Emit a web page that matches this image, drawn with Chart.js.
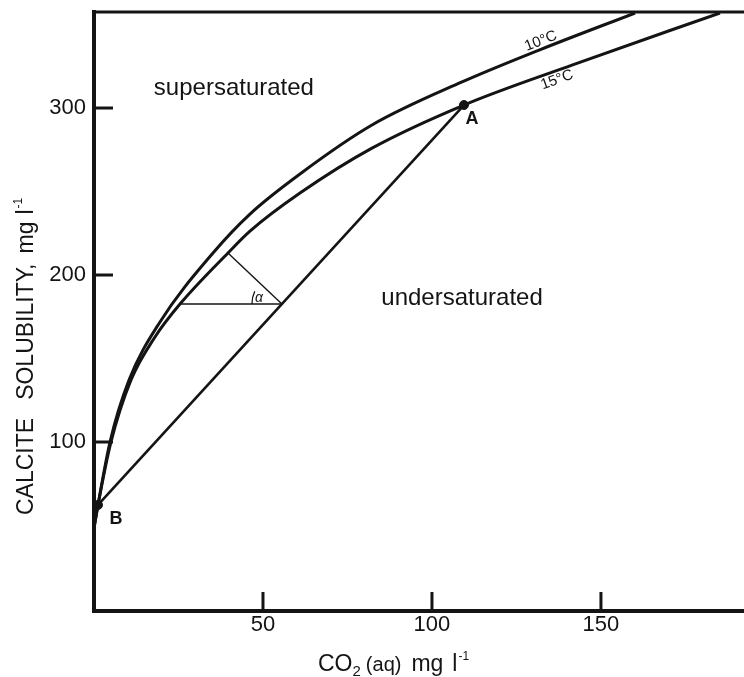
<!DOCTYPE html>
<html>
<head>
<meta charset="utf-8">
<title>Calcite solubility vs CO2</title>
<script src="https://cdn.jsdelivr.net/npm/chart.js@4.4.1/dist/chart.umd.min.js"></script>
<style>
  html, body { margin: 0; padding: 0; background: #fff; }
  canvas { display: block; }
</style>
</head>
<body>
<canvas id="calcite" width="744" height="677"></canvas>
<script>
(function () {
  'use strict';

  // values: CO2(aq) mg/l  ->  calcite solubility mg/l
  var co2_10 = [0, 1.18, 4.73, 10.36, 19.53, 35.21, 46.15, 60.95, 82.25, 108.9, 131.7, 160.1];
  var sol_10 = [48.5, 62.3, 100, 137.1, 171.9, 213.2, 236.5, 260.5, 289.8, 315.6, 334.7, 356.9];

  var co2_15 = [0, 1.18, 5.03, 10.95, 18.05, 25.44, 39.64, 46.15, 60.95, 82.25, 109.47, 141.42, 185.21];
  var sol_15 = [48.5, 62.3, 100, 137.1, 162.9, 182.6, 213.2, 226.3, 249.1, 276.0, 301.8, 325.7, 356.9];

  // points B and A and the line joining them
  var ptNames = ['B', 'A'];
  var ptCo2   = [1.18, 109.47];
  var ptSol   = [62.3, 301.8];

  // construction for the angle alpha
  var triCo2 = [25.44, 55.6, 39.64];
  var triSol = [182.6, 182.6, 213.2];

  var xTicks = [50, 100, 150];
  var yTicks = [100, 200, 300];

  var INK  = '#141414';
  var FONT = '"Liberation Sans", Arial, Helvetica, sans-serif';

  function pairs(xs, ys) {
    return xs.map(function (x, i) { return { x: x, y: ys[i] }; });
  }

  function lineSet(data, width, smooth) {
    return {
      data: data,
      showLine: true,
      borderColor: INK,
      borderWidth: width,
      pointRadius: 0,
      cubicInterpolationMode: smooth ? 'monotone' : 'default',
      tension: 0,
      fill: false
    };
  }

  // draws a run of text pieces (font size, baseline shift) starting at 0,0
  function drawRun(ctx, parts) {
    var x = 0;
    parts.forEach(function (p) {
      ctx.font = (p.style || '') + ' ' + p.size + 'px ' + FONT;
      ctx.fillText(p.t, x, p.dy || 0);
      x += ctx.measureText(p.t).width + (p.gap || 0);
    });
  }

  function noPad(s) {
    s.paddingTop = 0; s.paddingBottom = 0; s.paddingLeft = 0; s.paddingRight = 0;
  }

  var decor = {
    id: 'decor',
    afterDatasetsDraw: function (chart) {
      var ctx = chart.ctx;
      var a = chart.chartArea;
      var xs = chart.scales.x, ys = chart.scales.y;
      ctx.save();
      ctx.strokeStyle = INK;
      ctx.fillStyle = INK;

      // top frame line, and both frame lines run off the right edge
      ctx.lineWidth = 3;
      ctx.beginPath();
      ctx.moveTo(a.left - 2, a.top);
      ctx.lineTo(chart.width, a.top);
      ctx.stroke();
      ctx.lineWidth = 4;
      ctx.beginPath();
      ctx.moveTo(a.right - 1, a.bottom);
      ctx.lineTo(chart.width, a.bottom);
      ctx.stroke();

      // inward tick marks
      ctx.lineWidth = 3;
      xTicks.forEach(function (v) {
        var px = xs.getPixelForValue(v);
        ctx.beginPath();
        ctx.moveTo(px, a.bottom);
        ctx.lineTo(px, a.bottom - 19);
        ctx.stroke();
      });
      yTicks.forEach(function (v) {
        var py = ys.getPixelForValue(v);
        ctx.beginPath();
        ctx.moveTo(a.left, py);
        ctx.lineTo(a.left + 19, py);
        ctx.stroke();
      });

      // angle arc and alpha
      var vx = xs.getPixelForValue(triCo2[1]), vy = ys.getPixelForValue(triSol[1]);
      ctx.lineWidth = 1.3;
      ctx.beginPath();
      ctx.arc(vx, vy, 30, Math.PI, Math.PI + 0.44);
      ctx.stroke();
      ctx.font = 'italic 14px ' + FONT;
      ctx.textAlign = 'center';
      ctx.textBaseline = 'middle';
      ctx.fillText('\u03b1', vx - 23, vy - 6);

      // region labels
      ctx.font = '24px ' + FONT;
      ctx.fillText('supersaturated', xs.getPixelForValue(41.4), ys.getPixelForValue(312));
      ctx.fillText('undersaturated', xs.getPixelForValue(108.9), ys.getPixelForValue(186.2));

      // point labels
      ctx.font = 'bold 18px ' + FONT;
      var bx = xs.getPixelForValue(ptCo2[0]), by = ys.getPixelForValue(ptSol[0]);
      var ax = xs.getPixelForValue(ptCo2[1]), ay = ys.getPixelForValue(ptSol[1]);
      ctx.fillText(ptNames[0], bx + 18, by + 14);
      ctx.fillText(ptNames[1], ax + 8, ay + 14);

      // curve labels
      ctx.font = '15px ' + FONT;
      ctx.save();
      ctx.translate(xs.getPixelForValue(132.2), ys.getPixelForValue(340.1));
      ctx.rotate(-0.37);
      ctx.fillText('10\u00b0C', 0, 0);
      ctx.restore();
      ctx.save();
      ctx.translate(xs.getPixelForValue(137.0), ys.getPixelForValue(316.8));
      ctx.rotate(-0.35);
      ctx.fillText('15\u00b0C', 0, 0);
      ctx.restore();

      // axis titles
      ctx.textAlign = 'left';
      ctx.textBaseline = 'alphabetic';
      ctx.save();
      ctx.translate(318, 671);
      drawRun(ctx, [
        { t: 'CO', size: 23 },
        { t: '2', size: 15, dy: 5, gap: 5 },
        { t: '(aq)', size: 20, gap: 10 },
        { t: 'mg', size: 23, gap: 9 },
        { t: 'l', size: 23, gap: 1 },
        { t: '-1', size: 12, dy: -11 }
      ]);
      ctx.restore();

      ctx.save();
      ctx.translate(33, 515);
      ctx.rotate(-Math.PI / 2);
      drawRun(ctx, [
        { t: 'CALCITE', size: 23, gap: 18 },
        { t: 'SOLUBILITY,', size: 23, gap: 10 },
        { t: 'mg', size: 23, gap: 7 },
        { t: 'l', size: 23, gap: 1 },
        { t: '-1', size: 12, dy: -11 }
      ]);
      ctx.restore();

      ctx.restore();
    }
  };

  var tickFont = { family: FONT, size: 22 };

  new Chart(document.getElementById('calcite'), {
    type: 'scatter',
    data: {
      datasets: [
        lineSet(pairs(co2_10, sol_10), 3, true),
        lineSet(pairs(co2_15, sol_15), 3, true),
        lineSet(pairs(ptCo2, ptSol), 2.6, false),
        lineSet(pairs(triCo2.slice(0, 2), triSol.slice(0, 2)), 1.4, false),
        lineSet(pairs(triCo2.slice(1), triSol.slice(1)), 1.4, false),
        {
          data: pairs(ptCo2, ptSol),
          showLine: false,
          pointRadius: 4.5,
          pointBackgroundColor: INK,
          pointBorderColor: INK
        }
      ]
    },
    options: {
      responsive: false,
      animation: false,
      events: [],
      layout: { padding: { top: 12, right: 0, left: 0, bottom: 0 } },
      plugins: { legend: { display: false }, tooltip: { enabled: false } },
      scales: {
        x: {
          type: 'linear',
          min: 0,
          max: 190.7,
          grid: { display: false, drawTicks: false },
          border: { display: true, width: 4, color: INK },
          ticks: { font: tickFont, color: INK, padding: 1, maxRotation: 0 },
          afterBuildTicks: function (s) { s.ticks = xTicks.map(function (v) { return { value: v }; }); },
          afterFit: function (s) { s.height = 66; noPad(s); }
        },
        y: {
          type: 'linear',
          min: -1.2,
          max: 357.5,
          grid: { display: false, drawTicks: false },
          border: { display: true, width: 4, color: INK },
          ticks: { font: tickFont, color: INK, padding: 8 },
          afterBuildTicks: function (s) { s.ticks = yTicks.map(function (v) { return { value: v }; }); },
          afterFit: function (s) { s.width = 94; noPad(s); }
        }
      }
    },
    plugins: [decor]
  });
})();
</script>
</body>
</html>
